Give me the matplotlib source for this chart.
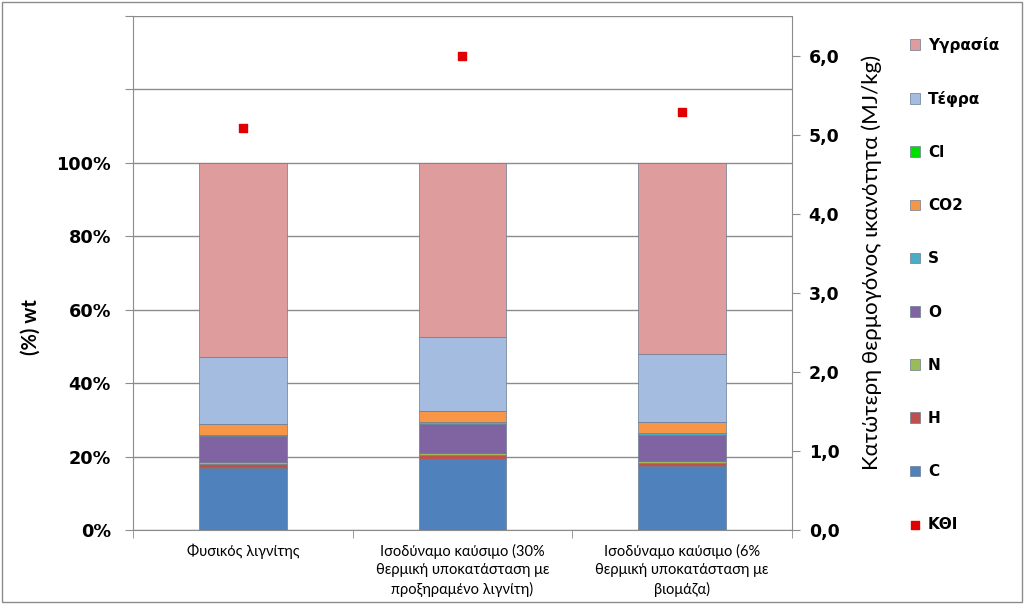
#!/usr/bin/env python3
"""Stacked composition of fuels (%) with lower heating value on a second axis."""

import matplotlib
matplotlib.use('Agg')
import matplotlib.pyplot as plt
import numpy as np
from matplotlib.ticker import FuncFormatter, MultipleLocator

plt.rcParams['font.family'] = ['Lato', 'DejaVu Sans']

categories = [
    'Φυσικός λιγνίτης',
    'Ισοδύναμο καύσιμο (30%\nθερμική υποκατάσταση με\nπροξηραμένο λιγνίτη)',
    'Ισοδύναμο καύσιμο (6%\nθερμική υποκατάσταση με\nβιομάζα)',
]

# mass fractions (%), bottom to top
C = [17.0, 19.3, 17.3]
H = [0.9, 1.2, 0.9]
N = [0.5, 0.4, 0.5]
O = [7.1, 7.9, 7.3]
S = [0.5, 0.5, 0.5]
CO2 = [2.8, 3.0, 2.8]
Cl = [0.05, 0.1, 0.05]
ash = [18.3, 20.2, 18.7]
moisture = [52.85, 47.4, 51.95]

# lower heating value, MJ/kg
lhv = [5.08, 6.0, 5.29]

series = [
    ('C', C, '#4F81BD'),
    ('H', H, '#C0504D'),
    ('N', N, '#9BBB59'),
    ('O', O, '#8064A2'),
    ('S', S, '#4BACC6'),
    ('CO2', CO2, '#F79646'),
    ('Cl', Cl, '#00E000'),
    ('Τέφρα', ash, '#A3BCE0'),
    ('Υγρασία', moisture, '#DE9C9C'),
]

BAR_W = 0.4
VERDANA_LIKE = 'DejaVu Sans'

fig = plt.figure(figsize=(10.24, 6.04), dpi=100)
ax = fig.add_axes([0.1299, 0.1225, 0.6435, 0.851])
x = np.arange(len(categories))
bottom = np.zeros(len(categories))
handles = []
for name, vals, color in series:
    vals = np.array(vals) / 100.0
    b = ax.bar(x, vals, BAR_W, bottom=bottom, color=color, edgecolor='#6b7b8f',
               linewidth=0.5, label=name, zorder=3)
    handles.append(b)
    bottom += vals

ax.set_xlim(-0.5, 2.5)
ax.set_ylim(0, 1.4)
ax.yaxis.set_major_locator(MultipleLocator(0.2))
ax.yaxis.set_major_formatter(FuncFormatter(
    lambda v, p: f'{v * 100:.0f}%' if v <= 1.001 else ''))
ax.grid(axis='y', color='#8c8c8c', linewidth=1, zorder=0)
ax.set_xticks(x)
ax.set_xticklabels(categories, fontsize=10.5, linespacing=1.4)
ax.tick_params(axis='x', length=0, pad=10)
ax.set_xticks([-0.5, 0.5, 1.5, 2.5], minor=True)
ax.tick_params(axis='x', which='minor', length=6, color='#8c8c8c')
ax.tick_params(axis='y', length=6, color='#8c8c8c', pad=10)
for lab in ax.get_yticklabels():
    lab.set_fontfamily(VERDANA_LIKE)
    lab.set_fontweight('bold')
    lab.set_fontsize(12.7)
ax.set_ylabel('(%) wt', fontsize=14.5, fontweight='bold')
ax.yaxis.set_label_coords(-0.14, 0.395)
for s in ['top', 'right']:
    ax.spines[s].set_visible(False)
for s in ['left', 'bottom']:
    ax.spines[s].set_color('#8c8c8c')

ax2 = ax.twinx()
k = ax2.scatter(x, lhv, marker='s', s=40, color='#E00000', label='ΚΘΙ', zorder=5)
ax2.set_ylim(0, 6.5)
ax2.yaxis.set_major_locator(MultipleLocator(1.0))
ax2.yaxis.set_major_formatter(FuncFormatter(lambda v, p: f'{v:.1f}'.replace('.', ',')))
ax2.tick_params(axis='y', length=6, color='#8c8c8c', pad=6)
for lab in ax2.get_yticklabels():
    lab.set_fontfamily(VERDANA_LIKE)
    lab.set_fontweight('bold')
    lab.set_fontsize(12.5)
ax2.set_ylabel('Κατώτερη θερμογόνος ικανότητα (MJ/kg)', fontsize=16)
ax2.yaxis.set_label_coords(1.106, 0.521)
for s in ['top', 'left', 'bottom']:
    ax2.spines[s].set_visible(False)
ax2.spines['right'].set_color('#8c8c8c')

leg_handles = handles[::-1] + [k]
leg_labels = [s[0] for s in series[::-1]] + ['ΚΘΙ']
leg = fig.legend(leg_handles, leg_labels, loc='upper left',
                 bbox_to_anchor=(0.875, 0.962), frameon=False,
                 prop={'family': VERDANA_LIKE, 'weight': 'bold', 'size': 11},
                 handlelength=0.7, handleheight=0.7, labelspacing=2.5,
                 handletextpad=0.5)

# thin frame around the whole chart
fig.patches.append(plt.Rectangle((0.002, 0.003), 0.996, 0.994, transform=fig.transFigure,
                                 fill=False, edgecolor='#8c8c8c', linewidth=1))

fig.savefig('out.png', dpi=100)
